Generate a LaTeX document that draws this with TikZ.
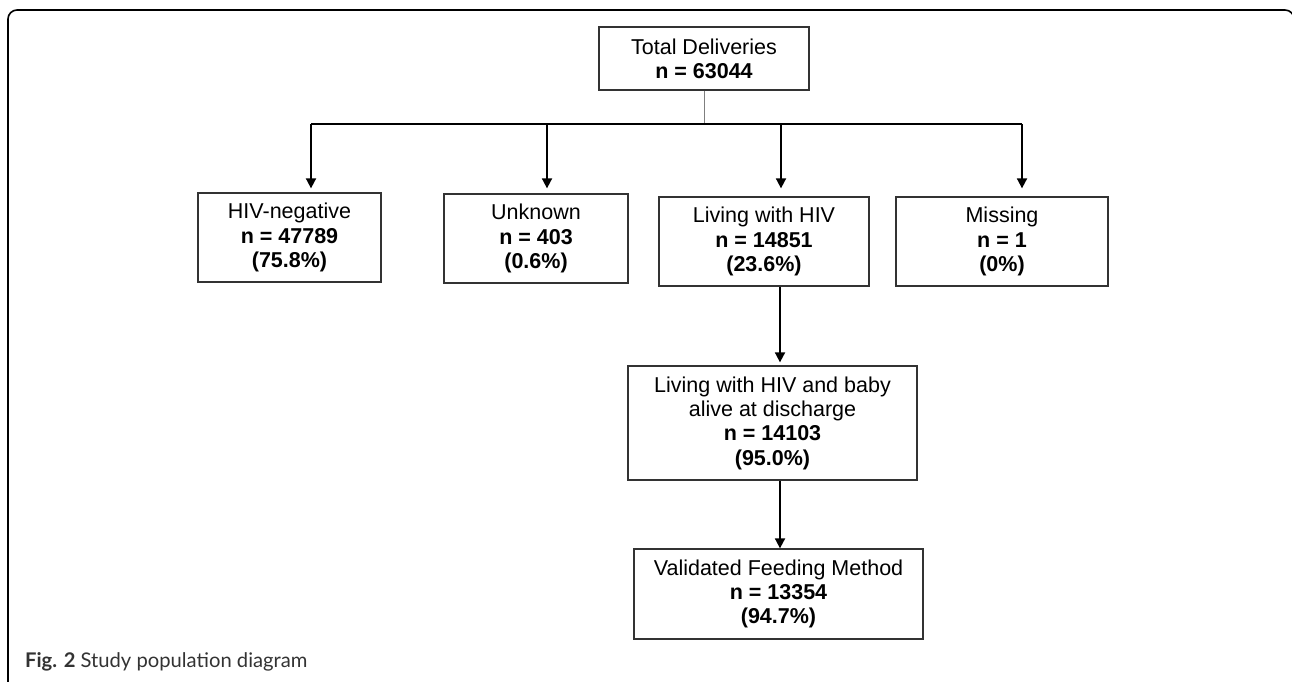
\documentclass[tikz,border=0pt]{standalone}
\usepackage{fontspec}
\setmainfont{Liberation Sans}
\newfontfamily\capfont{Lato}
\usetikzlibrary{arrows.meta}
\definecolor{boxline}{HTML}{333333}
\definecolor{capgray}{HTML}{333333}
\definecolor{stem}{HTML}{7F7F7F}
\begin{document}
\begin{tikzpicture}[x=1pt,y=-1pt,
  box/.style={draw=boxline, line width=1.3pt, align=center, inner sep=0pt,
              font=\fontsize{21.5}{24.3}\selectfont},
  arr/.style={line width=1.8pt, -{Triangle[length=10pt,width=10pt]}},
  bar/.style={line width=1.5pt}]
\useasboundingbox (0,0) rectangle (1292,681);
\draw[line width=1.6pt, rounded corners=9pt] (8,700) -- (8,10) -- (1294,10) -- (1294,700);

\node[box, minimum width=210pt, minimum height=63pt] (total) at (704,58.5)
  {Total Deliveries\\\textbf{n = 63044}};

\node[box, minimum width=183pt, minimum height=89pt] (hneg) at (289.5,237.5)
  {HIV-negative\\\textbf{n = 47789}\\\textbf{(75.8\%)}};
\node[box, minimum width=184pt, minimum height=89pt] (unk) at (536,238.5)
  {Unknown\\\textbf{n = 403}\\\textbf{(0.6\%)}};
\node[box, minimum width=210pt, minimum height=89pt] (liv) at (764,241.5)
  {Living with HIV\\\textbf{n = 14851}\\\textbf{(23.6\%)}};
\node[box, minimum width=212pt, minimum height=89pt] (miss) at (1002,241.5)
  {Missing\\\textbf{n = 1}\\\textbf{(0\%)}};

\node[box, minimum width=289pt, minimum height=114pt] (lwb) at (772.5,423)
  {Living with HIV and baby\\alive at discharge\\\textbf{n = 14103}\\\textbf{(95.0\%)}};
\node[box, minimum width=289pt, minimum height=90pt] (vfm) at (778.5,594)
  {Validated Feeding Method\\\textbf{n = 13354}\\\textbf{(94.7\%)}};

\coordinate (j) at (704,124);
\coordinate (bl) at (311,124);
\coordinate (b2) at (547,124);
\coordinate (b3) at (781,124);
\coordinate (br) at (1022,124);

\draw[stem, line width=0.9pt] (total.south) -- (j);
\draw[bar] (bl) -- (br);
\draw[arr, shorten >=4pt] (bl) -- (bl |- hneg.north);
\draw[arr, shorten >=5pt] (b2) -- (b2 |- unk.north);
\draw[arr, shorten >=8pt] (b3) -- (b3 |- liv.north);
\draw[arr, shorten >=8pt] (br) -- (br |- miss.north);

\draw[arr, shorten >=3pt] ([xshift=16pt]liv.south) -- ([xshift=16pt]liv.south |- lwb.north);
\draw[arr] ([xshift=7.5pt]lwb.south) -- ([xshift=7.5pt]lwb.south |- vfm.north);

\node[anchor=base west, inner sep=0pt, text=capgray,
      font=\capfont\fontsize{20.2}{22}\selectfont] (cap) at (25,667)
  {\textbf{Fig. 2} Study population diagram};
\end{tikzpicture}
\end{document}
